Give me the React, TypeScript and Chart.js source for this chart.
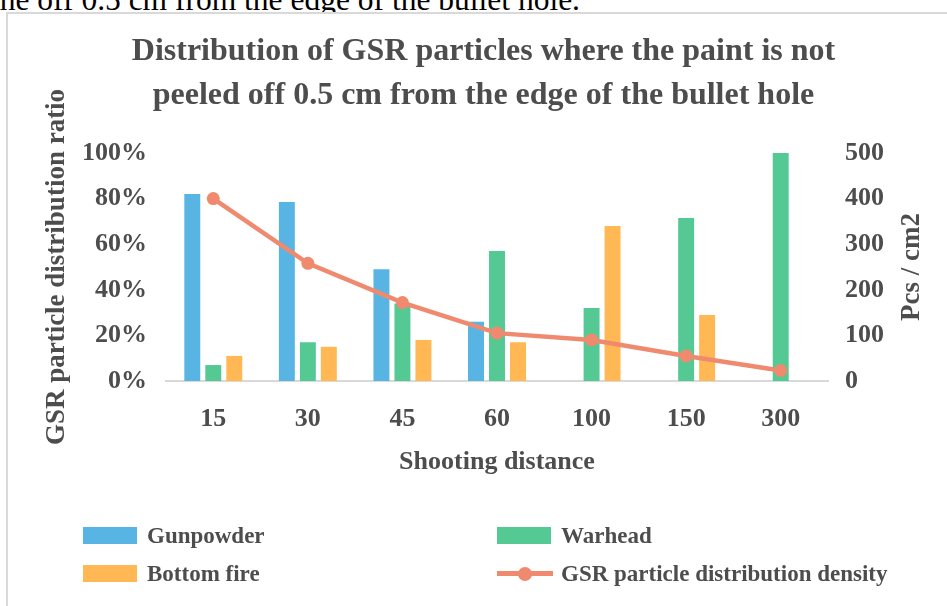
import React, { useEffect, useRef } from "react";
import { Chart, registerables } from "chart.js";

Chart.register(...registerables);

// ---- data ----
const categories = ["15", "30", "45", "60", "100", "150", "300"];
const gunpowder = [82, 78.5, 49, 26, 0, 0, 0];
const warhead = [7, 17, 34, 57, 32, 71.5, 100];
const bottomFire = [11, 15, 18, 17, 68, 29, 0];
const density = [400, 258, 172, 105, 90, 55, 23];
const leftTickValues = [0, 20, 40, 60, 80, 100];
const rightTickValues = [0, 100, 200, 300, 400, 500];

const seriesNames = ["Gunpowder", "Warhead", "Bottom fire", "GSR particle distribution density"];
const colors = ["#58B5E3", "#55C994", "#FFB853", "#F08A6F"];

const titleLines = [
  "Distribution of GSR particles where the paint is not",
  "peeled off 0.5 cm from the edge of the bullet hole",
];
const leftAxisTitle = "GSR particle distribution ratio";
const rightAxisTitle = "Pcs / cm2";
const xAxisTitle = "Shooting distance";
const topText = "the off 0.5 cm from the edge of the bullet hole.";

const FONT = "'Liberation Serif', 'Times New Roman', serif";
const TEXT = "#4D4D4D";

export default function App() {
  const ref = useRef<HTMLCanvasElement | null>(null);

  useEffect(() => {
    if (!ref.current) return;
    const rightTitle = {
      id: "rightTitle",
      afterDraw(chart: any) {
        const s = chart.scales.y1;
        const ctx = chart.ctx;
        ctx.save();
        ctx.translate(s.right - 18, (s.top + s.bottom) / 2);
        ctx.rotate(-Math.PI / 2);
        ctx.font = `bold 27px ${FONT}`;
        ctx.fillStyle = TEXT;
        ctx.textAlign = "center";
        ctx.textBaseline = "middle";
        ctx.fillText(rightAxisTitle, 0, 0);
        ctx.restore();
      },
    };

    const chart = new Chart(ref.current, {
      type: "bar",
      data: {
        labels: categories,
        datasets: [
          {
            type: "line",
            label: seriesNames[3],
            data: density,
            yAxisID: "y1",
            borderColor: colors[3],
            backgroundColor: colors[3],
            borderWidth: 4.5,
            pointRadius: 6.5,
            pointBackgroundColor: colors[3],
            pointBorderWidth: 0,
            tension: 0,
            order: 0,
          } as any,
          { label: seriesNames[0], data: gunpowder, backgroundColor: colors[0], yAxisID: "y", order: 1 },
          { label: seriesNames[1], data: warhead, backgroundColor: colors[1], yAxisID: "y", order: 1 },
          { label: seriesNames[2], data: bottomFire, backgroundColor: colors[2], yAxisID: "y", order: 1 },
        ],
      },
      options: {
        responsive: false,
        animation: false,
        datasets: { bar: { categoryPercentage: 0.666, barPercentage: 0.76, borderWidth: 0 } },
        layout: { padding: { left: 37, right: 17, top: 14, bottom: 124 } },
        plugins: {
          legend: { display: false },
          tooltip: { enabled: false },
          title: {
            display: true,
            text: titleLines,
            color: TEXT,
            font: { family: FONT, size: 32, weight: "bold", lineHeight: 1.375 },
            padding: { top: 16, bottom: 35 },
          },
        },
        scales: {
          x: {
            grid: { display: false },
            border: { display: true, color: "#D9D9D9", width: 2 },
            ticks: { color: TEXT, font: { family: FONT, size: 26, weight: "bold" }, padding: 15 },
            title: {
              display: true,
              text: xAxisTitle,
              color: TEXT,
              font: { family: FONT, size: 26, weight: "bold" },
              padding: { top: 4, bottom: 4 },
            },
            afterFit: (s: any) => {
              s.height = 101;
            },
          },
          y: {
            position: "left",
            min: 0,
            max: 100,
            afterBuildTicks: (s: any) => {
              s.ticks = leftTickValues.map((v) => ({ value: v }));
            },
            grid: { display: false, drawTicks: false },
            border: { display: false },
            ticks: {
              color: TEXT,
              font: { family: FONT, size: 26, weight: "bold" },
              padding: 19,
              callback: (v: any) => `${v}%`,
            },
            title: {
              display: true,
              text: leftAxisTitle,
              color: TEXT,
              font: { family: FONT, size: 27, weight: "bold" },
              padding: { top: 4, bottom: 4 },
            },
            afterFit: (s: any) => {
              s.width = 129;
            },
          },
          y1: {
            position: "right",
            min: 0,
            max: 500,
            afterBuildTicks: (s: any) => {
              s.ticks = rightTickValues.map((v) => ({ value: v }));
            },
            grid: { display: false, drawTicks: false },
            border: { display: false },
            ticks: {
              color: TEXT,
              font: { family: FONT, size: 26, weight: "bold" },
              padding: 17,
              callback: (v: any) => `${v}`,
            },
            afterFit: (s: any) => {
              s.width = 102;
            },
          },
        },
      } as any,
      plugins: [rightTitle],
    });
    return () => chart.destroy();
  }, []);

  const legendItems = [
    { name: seriesNames[0], color: colors[0], left: 83, top: 527, line: false },
    { name: seriesNames[1], color: colors[1], left: 497, top: 527, line: false },
    { name: seriesNames[2], color: colors[2], left: 83, top: 565, line: false },
    { name: seriesNames[3], color: colors[3], left: 497, top: 565, line: true },
  ];

  return (
    <div
      style={{
        position: "fixed",
        left: 0,
        top: 0,
        width: 947,
        height: 606,
        overflow: "hidden",
        background: "#fff",
      }}
    >
      <div
        style={{
          position: "absolute",
          left: -9,
          top: -16,
          fontFamily: FONT,
          fontSize: 31.5,
          lineHeight: "32px",
          whiteSpace: "nowrap",
          color: "#000",
        }}
      >
        {topText}
      </div>
      <div
        style={{
          position: "absolute",
          left: 6,
          top: 12,
          width: 1200,
          height: 1200,
          border: "2px solid #D9D9D9",
          background: "#fff",
        }}
      />
      <canvas
        ref={ref}
        width={947}
        height={606}
        style={{ position: "absolute", left: 0, top: 0, width: 947, height: 606 }}
      />
      {legendItems.map((it) => (
        <div key={it.name} style={{ position: "absolute", left: it.left, top: it.top, height: 17 }}>
          {it.line ? (
            <div style={{ position: "absolute", left: 0, top: 0, width: 56, height: 17 }}>
              <div
                style={{
                  position: "absolute",
                  left: 0,
                  top: 6,
                  width: 56,
                  height: 5,
                  background: it.color,
                }}
              />
              <div
                style={{
                  position: "absolute",
                  left: 21,
                  top: 1.5,
                  width: 14,
                  height: 14,
                  borderRadius: 7,
                  background: it.color,
                }}
              />
            </div>
          ) : (
            <div
              style={{ position: "absolute", left: 0, top: 0, width: 54, height: 17, background: it.color }}
            />
          )}
          <div
            style={{
              position: "absolute",
              left: 64,
              top: -8,
              lineHeight: "34px",
              fontFamily: FONT,
              fontWeight: "bold",
              fontSize: 23,
              color: TEXT,
              whiteSpace: "nowrap",
            }}
          >
            {it.name}
          </div>
        </div>
      ))}
    </div>
  );
}
